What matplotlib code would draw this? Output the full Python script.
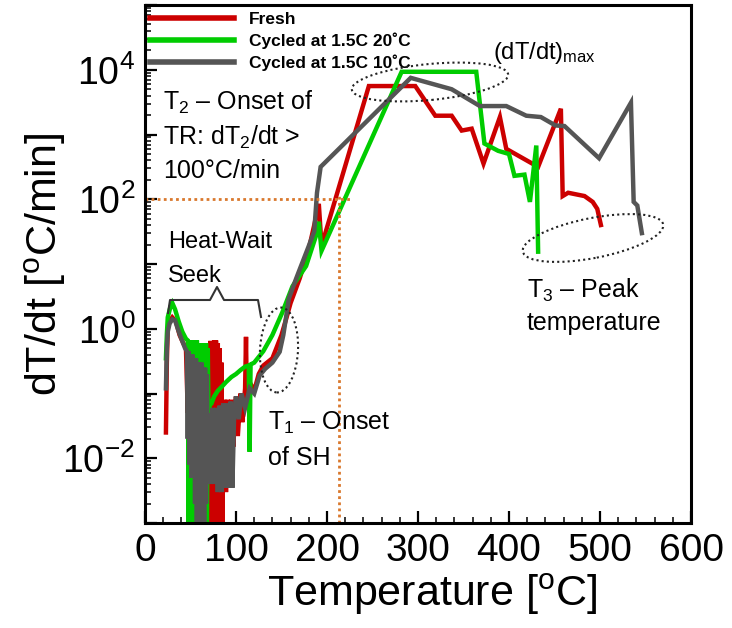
import matplotlib
matplotlib.use("Agg")
import matplotlib.pyplot as plt
from matplotlib.patches import Ellipse
from matplotlib.lines import Line2D
from matplotlib.ticker import FixedLocator, FuncFormatter, NullFormatter

plt.rcParams['font.family'] = ['Liberation Sans', 'DejaVu Sans']
plt.rcParams['mathtext.fontset'] = 'custom'
plt.rcParams['mathtext.rm'] = 'Liberation Sans'
plt.rcParams['mathtext.it'] = 'Liberation Sans:italic'
plt.rcParams['mathtext.default'] = 'regular'

# ---------------- data ----------------
labels = ["Fresh", "Cycled at 1.5C 20\u02daC", "Cycled at 1.5C 10\u02daC"]
colors = ["#cc0000", "#00cc00", "#555555"]

fresh_T = [23, 24, 25, 27, 30, 34, 38, 42, 45,
           47, 48, 49, 50,
           52, 54, 56, 58, 60, 62, 64, 66, 68,
           69, 70, 71, 72, 73, 74, 75, 76, 77, 78, 79, 80, 81, 82, 83, 84, 85,
           87, 89, 91, 93, 95, 97,
           100, 102, 105, 107, 110, 111, 112,
           115, 120, 125, 130, 140, 150, 155, 160,
           170, 180, 186, 191, 194,
           246, 297, 319, 337, 348, 359, 372, 390, 397,
           432, 457, 459, 465, 483, 492, 497, 501]
fresh_V = [0.025, 0.3, 1.0, 1.3, 1.5, 1.3, 0.8, 0.6, 0.5,
           0.05, 0.5, 0.02, 0.5,
           0.05, 0.55, 0.03, 0.6, 0.02, 0.6, 0.01, 0.6, 0.05,
           0.0005, 0.6, 0.0005, 0.65, 0.0005, 0.1, 0.0005, 0.66, 0.0005, 0.66, 0.001, 0.6, 0.0008, 0.5, 0.0009, 0.3, 0.001,
           0.08, 0.003, 0.08, 0.006, 0.08, 0.015,
           0.09, 0.022, 0.1, 0.036, 0.12, 0.75, 0.06,
           0.15, 0.11, 0.2, 0.27, 0.35, 0.8, 1.4, 2.5,
           6, 17, 40, 85, 19,
           5600, 5600, 1950, 1950, 1150, 1230, 355, 1860, 600,
           316, 2500, 112, 126, 112, 91, 71, 40]

c20_T = [23, 24, 25, 28, 30, 33, 37, 41, 45,
         47, 48, 49, 50, 51, 52, 53, 54, 55, 56, 57, 58,
         59, 60, 61, 62, 63, 64, 65, 66, 67, 68, 69, 70,
         71, 73, 76, 80, 85, 89, 95, 100, 105, 110, 114, 115, 116, 120,
         130, 140, 151, 162, 166, 177, 188, 191, 194,
         282, 364, 373, 388, 400, 406, 417, 423, 430, 432]
c20_V = [0.35, 0.8, 1.5, 2.2, 2.5, 2.0, 1.3, 0.9, 0.7,
         0.66, 0.0005, 0.66, 0.0005, 0.66, 0.0005, 0.66, 0.0005, 0.66, 0.0005, 0.66, 0.0005,
         0.6, 0.05, 0.6, 0.0005, 0.6, 0.0005, 0.6, 0.0005, 0.6, 0.0005, 0.5, 0.02,
         0.066, 0.07, 0.09, 0.11, 0.13, 0.15, 0.18, 0.2, 0.23, 0.26, 0.27, 0.0126, 0.28, 0.3,
         0.45, 0.8, 1.8, 4.5, 5.5, 9.3, 27.5, 45, 16,
         9300, 9300, 725, 560, 500, 230, 240, 91, 676, 15.5]

c10_T = [23, 24, 25, 27, 30, 33, 36, 40, 44, 46,
         47, 48, 49, 50, 51, 52, 53, 54, 55, 56, 57, 58,
         59, 60, 61, 62, 63, 64, 65, 66, 67, 68, 69, 70,
         72, 74, 76, 78, 80, 82, 84, 86, 88, 90, 92, 94, 96, 98,
         100, 103, 106, 110, 115, 120, 126, 132, 140, 148,
         152, 155, 158, 166, 169, 180, 186, 189, 193, 217,
         292, 337, 368, 397, 419, 435, 451, 461, 499, 534,
         537, 541, 546]
c10_V = [0.12, 0.5, 0.9, 1.2, 1.4, 1.35, 1.0, 0.7, 0.5, 0.45,
         0.02, 0.45, 0.008, 0.4, 0.005, 0.4, 0.03, 0.35, 0.002, 0.35, 0.0005, 0.3,
         0.0005, 0.3, 0.0005, 0.3, 0.0005, 0.25, 0.0005, 0.25, 0.002, 0.2, 0.004, 0.05,
         0.004, 0.06, 0.004, 0.06, 0.003, 0.065, 0.003, 0.07, 0.0035, 0.07, 0.0035, 0.075, 0.0035, 0.05,
         0.09, 0.04, 0.1, 0.06, 0.12, 0.1, 0.19, 0.24, 0.3, 0.44,
         0.8, 1.5, 2.9, 5.9, 7.6, 19, 32, 126, 316, 680,
         7500, 5000, 2750, 2750, 1950, 1860, 1380, 1350, 430, 3100,
         91, 80, 30]

x_ticks = [0, 100, 200, 300, 400, 500, 600]
y_major = [1e-3, 1e-2, 1e-1, 1e0, 1e1, 1e2, 1e3, 1e4, 1e5]
y_labeled_exp = [-2, 0, 2, 4]
onset_rate = 100      # dT/dt threshold
onset_temp = 213      # T2
# --------------------------------------

W, H = 732, 628
fig = plt.figure(figsize=(W / 100, H / 100), dpi=100)
ax = fig.add_axes([145 / W, 1 - 523 / H, 546 / W, 518 / H])

series = [(fresh_T, fresh_V), (c20_T, c20_V), (c10_T, c10_V)]
for (T, V), c, lab in zip(series, colors, labels):
    ax.plot(T, V, color=c, lw=3.2, label=lab, solid_joinstyle='miter')

orange = "#d9782d"
ax.plot([0, 226], [onset_rate, onset_rate], color=orange, lw=2, ls=(0, (1, 1.2)))
ax.plot([onset_temp, onset_temp], [1e-3, onset_rate * 1.15], color=orange, lw=2, ls=(0, (1, 1.2)))

ax.set_yscale('log')
ax.set_xlim(0, 600)
ax.set_ylim(1e-3, 1e5)

ax.xaxis.set_major_locator(FixedLocator(x_ticks))
ax.xaxis.set_minor_locator(FixedLocator(list(range(0, 601, 20))))
ax.yaxis.set_major_locator(FixedLocator(y_major))
ax.yaxis.set_minor_locator(FixedLocator([m * 10.0 ** e for e in range(-3, 5) for m in range(2, 10)]))


def yfmt(v, pos):
    import math
    e = int(round(math.log10(v)))
    if e in y_labeled_exp:
        return "$10^{%d}$" % e
    return ""


ax.yaxis.set_major_formatter(FuncFormatter(yfmt))
ax.yaxis.set_minor_formatter(NullFormatter())
ax.tick_params(axis='both', which='major', direction='in', length=8.5, width=1.6,
               top=False, right=False, labelsize=27, pad=7)
ax.tick_params(axis='both', which='minor', direction='in', length=4.3, width=1.1,
               top=False, right=False)
ax.tick_params(axis='x', labelsize=28)
for s in ax.spines.values():
    s.set_linewidth(2.2)

ax.set_xlabel("Temperature [$^{o}$C]", fontsize=31, va='center', ha='center')
ax.xaxis.set_label_coords((432 - 145) / 546, (523 - 594) / 518)
ax.set_ylabel("dT/dt [$^{o}$C/min]", fontsize=31, va='center', ha='center')
ax.yaxis.set_label_coords((45 - 145) / 546, (523 - 264) / 518)

leg = ax.legend(loc='upper left', bbox_to_anchor=(0.0, 0.996), frameon=False,
                prop={'weight': 'bold', 'size': 12.5}, handlelength=4.8,
                handletextpad=0.9, labelspacing=0.3, borderaxespad=0.3, borderpad=0.0)
for ln in leg.get_lines():
    ln.set_linewidth(4)

# annotations in pixel positions (converted to inches)
tr = fig.dpi_scale_trans


def P(x, y):
    return (x / 100, (H - y) / 100)


def txt(x, y, s, size):
    fig.text(*P(x, y), s, transform=tr, fontsize=size, ha='left', va='baseline')


txt(493, 59, "(dT/dt)$_{max}$", 17)
txt(163, 110, "T$_2$ \u2013 Onset of", 18)
txt(163, 145, "TR: dT$_2$/dt >", 18)
txt(163, 178, "100\u00b0C/min", 18)
txt(168, 248, "Heat-Wait", 17)
txt(168, 282, "Seek", 17)
txt(268, 430, "T$_1$ \u2013 Onset", 18)
txt(268, 465, "of SH", 18)
txt(527, 298, "T$_3$ \u2013 Peak", 18)
txt(527, 330, "temperature", 18)

for (cx, cy, w, h, a) in [(430, 82, 157, 36, 5.5), (593, 238, 143, 40, 11), (279, 350, 38, 85, -3)]:
    e = Ellipse(P(cx, cy), w / 100, h / 100, angle=a, transform=tr, fill=False,
                ec='#222222', lw=1.5, ls=(0, (1, 1.5)))
    fig.add_artist(e)

bx = [168, 170, 210, 217, 224, 258, 261]
by = [313, 300, 300, 287, 300, 300, 317]
fig.add_artist(Line2D([x / 100 for x in bx], [(H - y) / 100 for y in by], transform=tr,
                      color='#333333', lw=1.5))

fig.savefig("out.png", dpi=100)
